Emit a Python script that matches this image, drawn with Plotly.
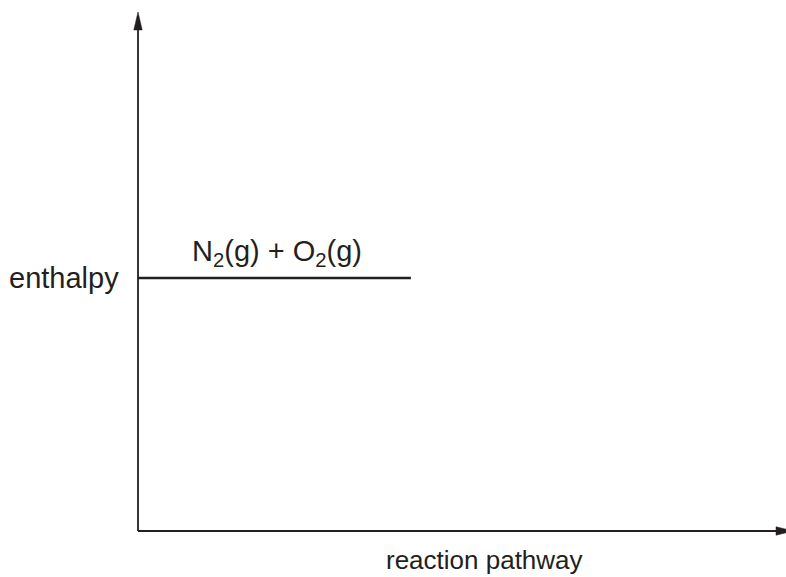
import plotly.graph_objects as go

# ---- data (abstract diagram units) ----
axis_x_end = 10.0          # x-axis (reaction pathway) arrow tip
axis_y_end = 10.0          # y-axis (enthalpy) arrow tip
level_names = ["N<sub>2</sub>(g) + O<sub>2</sub>(g)"]
level_enthalpy = [4.875]
level_x_start = [0.0]
level_x_end = [4.16]
label_x = [0.82]
x_label = "reaction pathway"
y_label = "enthalpy"

# ---- style ----
W, H = 786, 577
ORIGIN_X, ORIGIN_Y = 138, 531   # pixel position of the axes origin
TOP_PX = 12                     # pixel row of the y arrow tip
PAD = 10                        # room around the origin so axis strokes are not clipped
INK = "#231f20"
FONT = "Liberation Sans, Arial, sans-serif"
FS_LABEL = 29
FS_X = 26
HEAD_LEN_PX = 18
HEAD_HALF_PX = 4.2
X_OVERSHOOT_PX = 8  # the x arrow tip runs past the right edge

ML, MR, MT, MB = ORIGIN_X - PAD, 0, TOP_PX, H - ORIGIN_Y - PAD
axis_w_px = W - ORIGIN_X + X_OVERSHOOT_PX
axis_h_px = ORIGIN_Y - TOP_PX
px_x = axis_w_px / axis_x_end
px_y = axis_h_px / axis_y_end
x_range = [-PAD / px_x, (W - ORIGIN_X) / px_x]
y_range = [-PAD / px_y, axis_y_end]

fig = go.Figure()

# y axis line + arrowhead
y_head_len = HEAD_LEN_PX / px_y
y_head_half = HEAD_HALF_PX / px_x
fig.add_trace(go.Scatter(x=[0, 0], y=[0, axis_y_end - y_head_len], mode="lines",
                         line=dict(color=INK, width=1.8), hoverinfo="skip", showlegend=False))
fig.add_trace(go.Scatter(x=[-y_head_half, y_head_half, 0, -y_head_half],
                         y=[axis_y_end - y_head_len, axis_y_end - y_head_len, axis_y_end, axis_y_end - y_head_len],
                         mode="lines", fill="toself", fillcolor=INK, line=dict(color=INK, width=0.5),
                         hoverinfo="skip", showlegend=False))

# x axis line + arrowhead
x_head_len = HEAD_LEN_PX / px_x
x_head_half = HEAD_HALF_PX / px_y
fig.add_trace(go.Scatter(x=[0, axis_x_end - x_head_len], y=[0, 0], mode="lines",
                         line=dict(color=INK, width=1.8), hoverinfo="skip", showlegend=False))
fig.add_trace(go.Scatter(x=[axis_x_end - x_head_len, axis_x_end - x_head_len, axis_x_end, axis_x_end - x_head_len],
                         y=[-x_head_half, x_head_half, 0, -x_head_half],
                         mode="lines", fill="toself", fillcolor=INK, line=dict(color=INK, width=0.5),
                         hoverinfo="skip", showlegend=False))

# energy level(s)
for name, e, xs, xe, lx in zip(level_names, level_enthalpy, level_x_start, level_x_end, label_x):
    fig.add_trace(go.Scatter(x=[xs, xe], y=[e, e], mode="lines",
                             line=dict(color=INK, width=2.6), hoverinfo="skip", showlegend=False))
    fig.add_annotation(x=lx, y=e, xref="x", yref="y", text=name, showarrow=False,
                       xanchor="left", yanchor="bottom", yshift=5, xshift=-2,
                       font=dict(family=FONT, size=FS_LABEL, color=INK))

# axis labels
fig.add_annotation(x=0, y=level_enthalpy[0], xref="x", yref="y", text=y_label,
                   showarrow=False, xanchor="right", yanchor="middle", xshift=-17, yshift=0,
                   font=dict(family=FONT, size=FS_LABEL, color=INK))
fig.add_annotation(x=0.535 * axis_x_end * (W - ORIGIN_X) / axis_w_px, y=0, xref="x", yref="y",
                   text=x_label, showarrow=False, xanchor="center", yanchor="top", yshift=-12,
                   font=dict(family=FONT, size=FS_X, color=INK))

fig.update_xaxes(range=x_range, visible=False, fixedrange=True)
fig.update_yaxes(range=y_range, visible=False, fixedrange=True)
fig.update_layout(width=W, height=H, margin=dict(l=ML, r=MR, t=MT, b=MB),
                  plot_bgcolor="white", paper_bgcolor="white", showlegend=False)

fig.write_html("out.html", config={"displayModeBar": False, "staticPlot": True},
               post_script="document.body.style.margin='0px';document.body.style.overflow='hidden';")
